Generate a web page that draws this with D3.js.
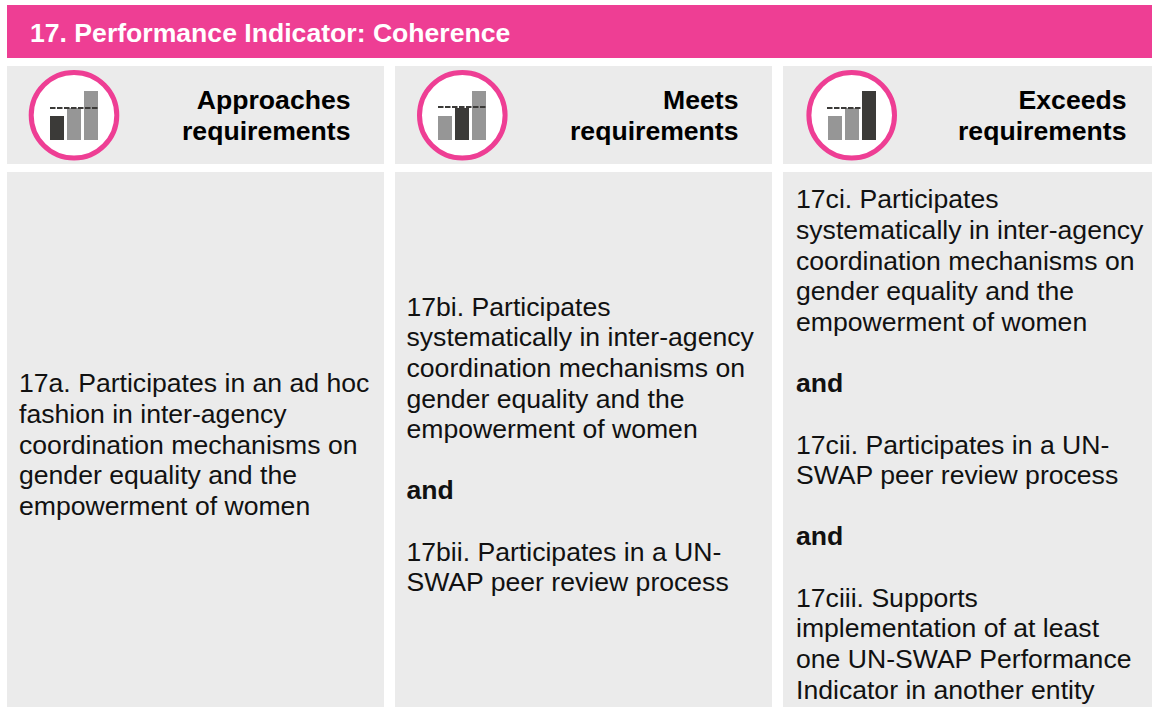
<!DOCTYPE html>
<html>
<head>
<meta charset="utf-8">
<script src="https://cdn.jsdelivr.net/npm/d3@7"></script>
<style>
  html, body { margin: 0; padding: 0; background: #fff; }
  svg { display: block; font-family: "Liberation Sans", Arial, sans-serif; }
</style>
</head>
<body>
<div id="chart"></div>
<script>
const title = "17. Performance Indicator: Coherence";
const levels = ["Approaches", "Meets", "Exceeds"];
const levelSub = "requirements";
const barNames = ["low", "mid", "high"];
const barValues = [24, 32, 49];
const highlighted = [0, 1, 2];   // which bar is dark in each icon
const thresholdValue = 32;

const col1Lines = [
  "17a. Participates in an ad hoc",
  "fashion in inter-agency",
  "coordination mechanisms on",
  "gender equality and the",
  "empowerment of women"
];
const col2Lines = [
  "17bi. Participates",
  "systematically in inter-agency",
  "coordination mechanisms on",
  "gender equality and the",
  "empowerment of women",
  "",
  "*and",
  "",
  "17bii. Participates in a UN-",
  "SWAP peer review process"
];
const col3Lines = [
  "17ci. Participates",
  "systematically in inter-agency",
  "coordination mechanisms on",
  "gender equality and the",
  "empowerment of women",
  "",
  "*and",
  "",
  "17cii. Participates in a UN-",
  "SWAP peer review process",
  "",
  "*and",
  "",
  "17ciii. Supports",
  "implementation of at least",
  "one UN-SWAP Performance",
  "Indicator in another entity"
];
const bodies = [col1Lines, col2Lines, col3Lines];

const width = 1152, height = 707;
const PINK = "#ee3e94", GREY = "#ebebeb", DARK = "#3b3a38", MID = "#969696";
const FONT = 26.6;

const svg = d3.select("#chart").append("svg")
  .attr("width", width)
  .attr("height", height);

// title band
svg.append("rect")
  .attr("x", 7).attr("y", 5)
  .attr("width", width - 7).attr("height", 53)
  .attr("fill", PINK);
svg.append("text")
  .attr("x", 30).attr("y", 41.5)
  .attr("font-size", FONT).attr("font-weight", "bold")
  .attr("fill", "#fff")
  .text(title);

const colX = [7, 395, 783];
const colW = [377, 377, 369];
const circleX = [67, 67.3, 68.7];
const barsX = [43, 43, 45];
const thresholdStart = [0, 0, -1];
const thresholdShift = [0, -1, 0];
const bodyX = [12, 11.5, 13];
const lineStep = 30.66;
const bodyCentre = 444.5;

levels.forEach((level, c) => {
  const g = svg.append("g").attr("transform", `translate(${colX[c]},0)`);

  g.append("rect").attr("y", 66).attr("width", colW[c]).attr("height", 98).attr("fill", GREY);
  g.append("rect").attr("y", 172).attr("width", colW[c]).attr("height", height - 172).attr("fill", GREY);

  // icon
  g.append("circle")
    .attr("cx", circleX[c]).attr("cy", 115.3).attr("r", 42.8)
    .attr("fill", "#fff").attr("stroke", PINK).attr("stroke-width", 5);

  const x = d3.scaleBand().domain(barNames).range([barsX[c], barsX[c] + 48]).paddingInner(0.176);
  const y = d3.scaleLinear().domain([0, 49]).range([140, 91]);

  g.selectAll(".bar")
    .data(barValues)
    .join("rect")
    .attr("class", "bar")
    .attr("x", (d, i) => x(barNames[i]))
    .attr("y", d => y(d))
    .attr("width", x.bandwidth())
    .attr("height", d => y(0) - y(d))
    .attr("fill", (d, i) => i === highlighted[c] ? DARK : MID);

  // dashed target line, from the scale; the tallest bar hides its end in the last icon
  g.append("line")
    .attr("x1", x("low") + thresholdStart[c])
    .attr("x2", x("low") + thresholdStart[c] + 49)
    .attr("y1", y(thresholdValue) + thresholdShift[c])
    .attr("y2", y(thresholdValue) + thresholdShift[c])
    .attr("stroke", DARK).attr("stroke-width", 2)
    .attr("stroke-dasharray", "5.5 1.5");

  // heading, right aligned
  const headX = 343.5;
  g.append("text")
    .attr("x", headX).attr("y", 109)
    .attr("text-anchor", "end").attr("font-size", FONT).attr("font-weight", "bold")
    .attr("fill", "#000").text(level);
  g.append("text")
    .attr("x", headX).attr("y", 140)
    .attr("text-anchor", "end").attr("font-size", FONT).attr("font-weight", "bold")
    .attr("fill", "#000").text(levelSub);

  // body copy, vertically centred in the cell
  const lines = bodies[c];
  const top = bodyCentre - (lines.length - 1) * lineStep / 2;
  g.selectAll(".line")
    .data(lines)
    .join("text")
    .attr("class", "line")
    .attr("x", bodyX[c])
    .attr("y", (d, i) => top + i * lineStep + 9)
    .attr("font-size", FONT)
    .attr("font-weight", d => d.startsWith("*") ? "bold" : "normal")
    .attr("fill", "#111")
    .text(d => d.replace("*", ""));
});
</script>
</body>
</html>
